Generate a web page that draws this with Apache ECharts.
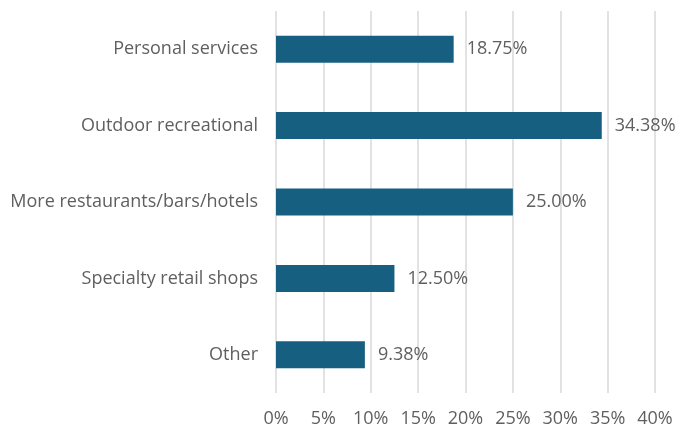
<!DOCTYPE html>
<html>
<head>
<meta charset="utf-8">
<script src="https://cdn.jsdelivr.net/npm/echarts@6/dist/echarts.min.js"></script>
<style>
  html, body { margin: 0; padding: 0; background: #fff; }
  #chart { width: 677px; height: 430px; }
</style>
</head>
<body>
<div id="chart"></div>
<script>
// Categories listed bottom-to-top (ECharts category y-axis starts at the bottom)
const categories = ['Other', 'Specialty retail shops', 'More restaurants/bars/hotels', 'Outdoor recreational', 'Personal services'];
const shares = [9.38, 12.50, 25.00, 34.38, 18.75];
const tickMin = 0;
const tickMax = 40;
const tickStep = 5;

const chart = echarts.init(document.getElementById('chart'));
const textColor = '#5f5f5f';
const fontFamily = '"Open Sans", Lato, sans-serif';

chart.setOption({
  animation: false,
  grid: { left: 276, right: 22, top: 11, bottom: 37, containLabel: false },
  xAxis: {
    type: 'value',
    min: tickMin,
    max: tickMax,
    interval: tickStep,
    axisLine: { show: false },
    axisTick: { show: false },
    splitLine: { show: true, lineStyle: { color: '#d9d9d9', width: 1.5 } },
    axisLabel: {
      color: textColor,
      fontSize: 18,
      fontFamily: fontFamily,
      margin: 17,
      formatter: v => v + '%'
    }
  },
  yAxis: {
    type: 'category',
    data: categories,
    axisLine: { show: false },
    axisTick: { show: false },
    axisLabel: {
      color: textColor,
      fontSize: 18,
      fontFamily: fontFamily,
      margin: 18
    }
  },
  series: [{
    type: 'bar',
    data: shares,
    barWidth: 27,
    itemStyle: { color: '#175f81' },
    label: {
      show: true,
      position: 'right',
      distance: 13,
      color: textColor,
      fontSize: 18,
      fontFamily: fontFamily,
      formatter: p => p.value.toFixed(2) + '%'
    }
  }]
});
</script>
</body>
</html>
